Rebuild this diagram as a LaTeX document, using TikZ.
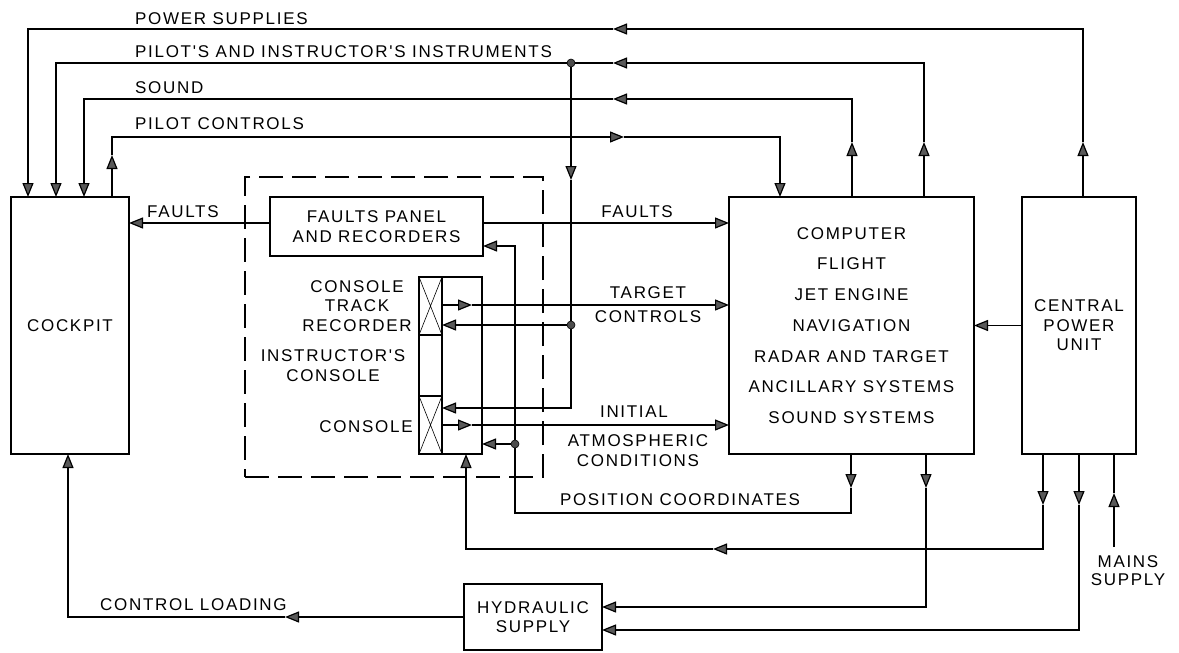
\documentclass[tikz,border=0pt]{standalone}
\usepackage{fontspec}
\newfontfamily\lblfont{Liberation Sans}[LetterSpace=10]
\usetikzlibrary{arrows.meta, positioning, calc}
\tikzset{
    block/.style={rectangle, draw, line width=1.2pt, outer sep=0pt, inner sep=0pt, align=center, font=\lblfont\fontsize{17}{19.5}\selectfont},
    cell/.style={rectangle, draw, line width=1.2pt, outer sep=0pt, inner sep=0pt, minimum width=23pt, minimum height=58pt},
    dashbox/.style={rectangle, draw, line width=1.2pt, dash pattern=on 24pt off 9pt, inner sep=0pt},
    tag/.style={inner sep=0pt, align=center, font=\lblfont\fontsize{17}{19.5}\selectfont},
    dot/.style={circle, fill=black!70, draw=black, line width=0.6pt, minimum size=8pt, inner sep=0pt},
    wire/.style={line width=1.2pt},
    arrow/.style={wire, -{Triangle[length=14pt, width=11pt, fill=black!65]}}
}
\begin{document}
\begin{tikzpicture}[x=1pt, y=-1pt]
    \fill[white] (0,0) rectangle (1179,653);
    \useasboundingbox (0,0) rectangle (1179,653);

    % blocks
    \node (cockpit) [block, minimum width=118pt, minimum height=257pt] at (70,325.5) {COCKPIT};
    \node (instr) [dashbox, minimum width=298pt, minimum height=300pt] at (394,327) {};
    \node (faults) [block, minimum width=213pt, minimum height=59pt] at (376.5,226.5) {FAULTS PANEL\\AND RECORDERS};
    \node (console) [block, minimum width=63pt, minimum height=177pt] at (450.5,365.5) {};
    \node (trackrec) [cell, anchor=north west] at (console.north west) {};
    \node (consolecell) [cell, anchor=south west] at (console.south west) {};
    \node (computer) [block, minimum width=245pt, minimum height=257pt, font=\lblfont\fontsize{17}{30.7}\selectfont] at (851.5,325.5)
        {COMPUTER\\FLIGHT\\JET ENGINE\\NAVIGATION\\RADAR AND TARGET\\ANCILLARY SYSTEMS\\SOUND SYSTEMS};
    \node (cpu) [block, minimum width=114pt, minimum height=257pt] at (1079,325.5) {CENTRAL\\POWER\\UNIT};
    \node (hydraulic) [block, minimum width=138pt, minimum height=66pt] at (533,617) {HYDRAULIC\\SUPPLY};

    % console strips
    \draw [wire] (trackrec.north east) -- (consolecell.south east);
    \draw [line width=0.6pt] (trackrec.north west) -- (trackrec.south east) (trackrec.north east) -- (trackrec.south west);
    \draw [line width=0.6pt] (consolecell.north west) -- (consolecell.south east) (consolecell.north east) -- (consolecell.south west);

    % texts
    \node (pwlbl) [tag, anchor=base west] at (135,24) {POWER SUPPLIES};
    \node (pilbl) [tag, anchor=base west] at (135,57) {PILOT'S AND INSTRUCTOR'S INSTRUMENTS};
    \node (sdlbl) [tag, anchor=base west] at (135,93) {SOUND};
    \node (ctlbl) [tag, anchor=base west] at (135,129) {PILOT CONTROLS};
    \node (flbl) [tag, anchor=base west] at (147,217) {FAULTS};
    \node (frlbl) [tag, anchor=base] at (637,217) {FAULTS};
    \node (tclbl) [tag, font=\lblfont\fontsize{17}{24}\selectfont] at (648,305) {TARGET\\CONTROLS};
    \node (inlbl) [tag] at (634,412) {INITIAL};
    \node (aclbl) [tag] at (638,450.5) {ATMOSPHERIC\\CONDITIONS};
    \node (pclbl) [tag] at (680,500) {POSITION COORDINATES};
    \node (trklbl) [tag] at (357,306) {CONSOLE\\TRACK\\RECORDER};
    \node (instlbl) [tag] at (333,365.5) {INSTRUCTOR'S\\CONSOLE};
    \node (conlbl) [tag] at (366,427) {CONSOLE};
    \node (cllbl) [tag, anchor=west] at (100,605) {CONTROL LOADING};

    % power supplies
    \coordinate (pwR) at (1083,29);
    \coordinate (pwL) at (28,29);
    \coordinate (pwUp) at (1083,142);
    \coordinate (pwMid) at (613,29);
    \draw [arrow] (cpu.north -| pwR) -- (pwUp);
    \draw [arrow] (pwUp) -- (pwR) -- (pwMid);
    \draw [arrow] (pwMid) -- (pwL) -- (pwL |- cockpit.north);

    % pilot's and instructor's instruments
    \coordinate (piR) at (924,63);
    \coordinate (piL) at (56,63);
    \coordinate (piUp) at (924,142);
    \coordinate (piMid) at (613,63);
    \draw [arrow] (computer.north -| piR) -- (piUp);
    \draw [arrow] (piUp) -- (piR) -- (piMid);
    \draw [arrow] (piMid) -- (piL) -- (piL |- cockpit.north);
    \node (piDot) [dot] at (571,63) {};
    \node (trkDot) [dot] at (571,325) {};
    \coordinate (piDown) at (571,180);
    \coordinate (piBot) at (571,408);
    \draw [arrow] (piDot) -- (piDown);
    \draw [wire] (piDown) -- (trkDot);
    \draw [arrow] (trkDot) -- (trkDot -| trackrec.east);
    \draw [arrow] (trkDot) -- (piBot) -- (piBot -| trackrec.east);

    % sound
    \coordinate (sdR) at (852,99);
    \coordinate (sdL) at (84,99);
    \coordinate (sdUp) at (852,142);
    \coordinate (sdMid) at (613,99);
    \draw [arrow] (computer.north -| sdR) -- (sdUp);
    \draw [arrow] (sdUp) -- (sdR) -- (sdMid);
    \draw [arrow] (sdMid) -- (sdL) -- (sdL |- cockpit.north);

    % pilot controls
    \coordinate (ctL) at (112,137);
    \coordinate (ctR) at (780,137);
    \coordinate (ctUp) at (112,155);
    \coordinate (ctMid) at (624,137);
    \draw [arrow] (cockpit.north -| ctL) -- (ctUp);
    \draw [arrow] (ctUp) -- (ctL) -- (ctMid);
    \draw [arrow] (ctMid) -- (ctR) -- (ctR |- computer.north);

    % faults
    \coordinate (fy) at (0,223);
    \draw [arrow] (faults.west |- fy) -- (cockpit.east |- fy);
    \draw [arrow] (faults.east |- fy) -- (computer.west |- fy);

    % target controls and initial conditions
    \coordinate (tcA) at (472,305);
    \coordinate (icA) at (472,425);
    \draw [arrow] (trackrec.east |- tcA) -- (tcA);
    \draw [arrow] (tcA) -- (computer.west |- tcA);
    \draw [arrow] (trackrec.east |- icA) -- (icA);
    \draw [arrow] (icA) -- (computer.west |- icA);

    % position coordinates
    \coordinate (pcDn) at (851,488);
    \coordinate (pcR) at (851,513);
    \coordinate (pcL) at (515,513);
    \coordinate (fpy) at (0,246);
    \node (conDot) [dot] at (515,444) {};
    \draw [arrow] (computer.south -| pcR) -- (pcDn);
    \draw [wire] (pcDn) -- (pcR) -- (pcL) -- (conDot);
    \draw [arrow] (conDot) -- (conDot -| console.east);
    \draw [arrow] (conDot) -- (conDot |- fpy) -- (faults.east |- fpy);

    % power to console
    \coordinate (cpA) at (1043,505);
    \coordinate (cpB) at (1043,549);
    \coordinate (cpMid) at (713,549);
    \coordinate (cpC) at (466,549);
    \draw [arrow] (cpu.south -| cpB) -- (cpA);
    \draw [arrow] (cpA) -- (cpB) -- (cpMid);
    \draw [arrow] (cpMid) -- (cpC) -- (cpC |- console.south);

    % hydraulic supply
    \coordinate (hyA) at (926,488);
    \coordinate (hyB) at (926,607);
    \coordinate (hcA) at (1079,505);
    \coordinate (hcB) at (1079,630);
    \draw [arrow] (computer.south -| hyB) -- (hyA);
    \draw [arrow] (hyA) -- (hyB) -- (hydraulic.east |- hyB);
    \draw [arrow] (cpu.south -| hcB) -- (hcA);
    \draw [arrow] (hcA) -- (hcB) -- (hydraulic.east |- hcB);

    % mains
    \coordinate (mains) at (1114,547);
    \coordinate (mnA) at (1114,493);
    \node (mnlbl) [tag, font=\lblfont\fontsize{17}{18.5}\selectfont, below=8pt of mains, xshift=14pt] {MAINS\\SUPPLY};
    \draw [arrow] (mains) -- (mnA);
    \draw [wire] (mnA) -- (mnA |- cpu.south);

    % central power to computer
    \draw [arrow] (cpu) -- (computer);

    % control loading
    \coordinate (clMid) at (285,617);
    \coordinate (clL) at (68,617);
    \draw [arrow] (hydraulic.west) -- (clMid);
    \draw [arrow] (clMid) -- (clL) -- (clL |- cockpit.south);
\end{tikzpicture}
\end{document}
